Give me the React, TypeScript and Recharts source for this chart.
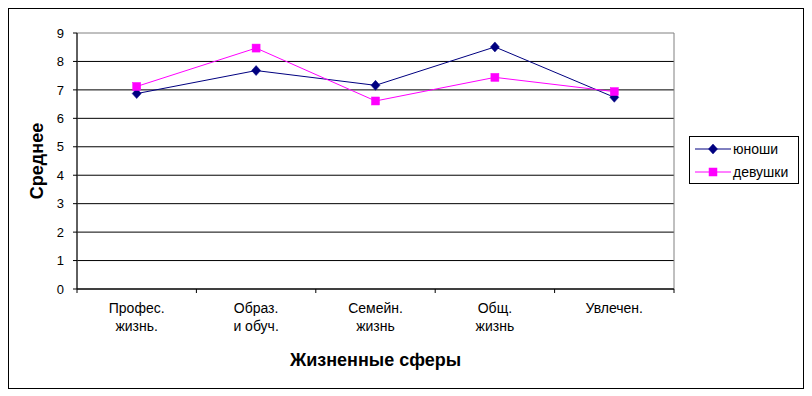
import { LineChart, Line, XAxis, YAxis, CartesianGrid, Legend, ReferenceArea } from 'recharts';

const categories = ['Профес.\nжизнь.', 'Образ.\nи обуч.', 'Семейн.\nжизнь', 'Общ.\nжизнь', 'Увлечен.'];
const boys = [6.87, 7.68, 7.16, 8.51, 6.74];
const girls = [7.12, 8.47, 6.61, 7.44, 6.94];
const yTicks = [0, 1, 2, 3, 4, 5, 6, 7, 8, 9];
const seriesNames = ['юноши', 'девушки'];

const FONT = "'Liberation Sans', Arial, sans-serif";
const NAVY = '#000080';
const PINK = '#FF00FF';

const data = categories.map((name, i) => ({ name, boys: boys[i], girls: girls[i] }));

const Diamond = ({ cx, cy, fill }: any) => (
  <polygon points={`${cx},${cy - 5} ${cx + 4.5},${cy} ${cx},${cy + 5} ${cx - 4.5},${cy}`} fill={fill} stroke={fill} strokeWidth={0.5} />
);
const Square = ({ cx, cy, fill }: any) => (
  <rect x={cx - 4} y={cy - 4} width={8} height={8} fill={fill} stroke={fill} strokeWidth={0.5} />
);

// подписи категорий в две строки + засечки между категориями (как в Excel)
const CategoryTick = (props: any) => {
  const { x, y, payload, index, width, visibleTicksCount } = props;
  const half = payload.offset || width / (2 * visibleTicksCount);
  const lines = String(payload.value).split('\n');
  return (
    <g>
      <line x1={x - half} x2={x - half} y1={y} y2={y + 4} stroke="#000" />
      {index === visibleTicksCount - 1 && <line x1={x + half} x2={x + half} y1={y} y2={y + 4} stroke="#000" />}
      <text x={x} y={y + 24} textAnchor="middle" fontFamily={FONT} fontSize={14} fill="#000">
        {lines.map((l, i) => (
          <tspan key={i} x={x} dy={i === 0 ? 0 : 18}>{l}</tspan>
        ))}
      </text>
    </g>
  );
};

const LegendBox = ({ payload }: any) => {
  const items = [...(payload || [])].sort((a: any, b: any) => seriesNames.indexOf(a.value) - seriesNames.indexOf(b.value));
  return (
    <div style={{ width: 110, height: 48, border: '1px solid #000', boxSizing: 'border-box', background: '#fff', fontFamily: FONT, fontSize: 14 }}>
      {items.map((p: any, i: number) => (
        <div key={i} style={{ display: 'flex', alignItems: 'center', height: 23 }}>
          <svg width={42} height={12} style={{ flex: 'none' }}>
            <line x1={5} x2={41} y1={6} y2={6} stroke={p.color} />
            {p.type === 'diamond' ? <Diamond cx={23} cy={6} fill={p.color} /> : <Square cx={23} cy={6} fill={p.color} />}
          </svg>
          <span style={{ marginLeft: 1, lineHeight: '14px' }}>{p.value}</span>
        </div>
      ))}
    </div>
  );
};

export default function App() {
  return (
    <div style={{ width: 796, height: 381, border: '1px solid #000', boxSizing: 'border-box', position: 'relative', background: '#fff' }}>
      <LineChart width={794} height={379} data={data} margin={{ top: 24, right: 129, bottom: 0, left: 0 }}>
        {/* верхняя линия — это серая рамка области построения, поэтому без 9 */}
        <CartesianGrid vertical={false} stroke="#000" strokeOpacity={1} horizontalValues={yTicks.slice(0, -1)} />
        <ReferenceArea y1={0} y2={9} fill="none" stroke="#808080" strokeWidth={1} />
        <XAxis
          dataKey="name"
          scale="band"
          interval={0}
          height={99}
          tickLine={false}
          tickSize={0}
          tickMargin={0}
          axisLine={{ stroke: '#000' }}
          tick={<CategoryTick />}
          label={{ value: 'Жизненные сферы', position: 'insideBottom', offset: 22, fontFamily: FONT, fontSize: 18, fontWeight: 'bold', fill: '#000' }}
        />
        <YAxis
          width={68}
          domain={[0, 9]}
          ticks={yTicks}
          interval={0}
          tickSize={4}
          tickMargin={9}
          tickLine={{ stroke: '#000' }}
          axisLine={{ stroke: '#000' }}
          tick={{ fontFamily: FONT, fontSize: 13, fill: '#000' }}
          label={{
            content: (p: any) => {
              const vb = p.viewBox;
              const cx = vb.x + 28;
              const cy = vb.y + vb.height / 2;
              return (
                <text x={cx} y={cy} transform={`rotate(-90 ${cx} ${cy})`} textAnchor="middle" dominantBaseline="central" fontFamily={FONT} fontSize={18} fontWeight="bold" fill="#000">
                  Среднее
                </text>
              );
            },
          }}
        />
        <Legend
          layout="vertical"
          align="center"
          verticalAlign="middle"
          content={<LegendBox />}
          wrapperStyle={{ left: 680, top: 127, width: 110, height: 48 }}
        />
        <Line dataKey="boys" name={seriesNames[0]} stroke={NAVY} strokeWidth={1} legendType="diamond" dot={(p: any) => <Diamond key={p.index} cx={p.cx} cy={p.cy} fill={NAVY} />} activeDot={false} isAnimationActive={false} />
        <Line dataKey="girls" name={seriesNames[1]} stroke={PINK} strokeWidth={1} legendType="square" dot={(p: any) => <Square key={p.index} cx={p.cx} cy={p.cy} fill={PINK} />} activeDot={false} isAnimationActive={false} />
      </LineChart>
    </div>
  );
}
